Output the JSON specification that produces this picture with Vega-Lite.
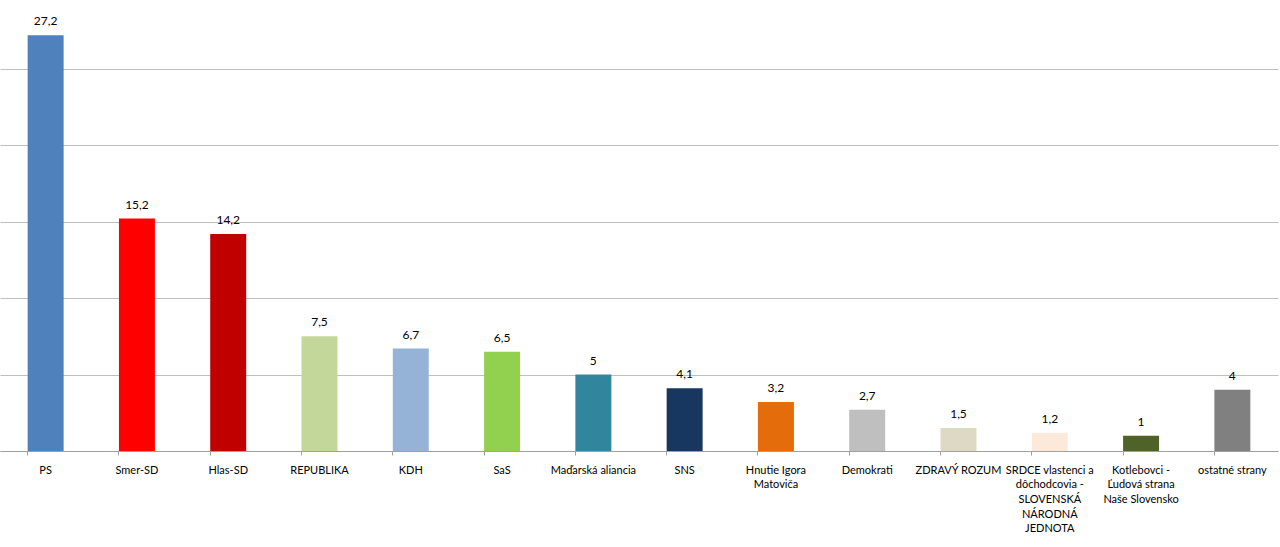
{
  "$schema": "https://vega.github.io/schema/vega-lite/v6.json",
  "width": 1278,
  "height": 451,
  "autosize": "none",
  "padding": {"left": 0, "top": 0, "right": 2, "bottom": 96},
  "background": "white",
  "config": {
    "view": {"stroke": null},
    "locale": {"number": {"decimal": ",", "thousands": " ", "grouping": [3], "currency": ["", " €"]}},
    "font": "Lato"
  },
  "data": {
    "values": [
      {"party": "PS", "value": 27.2, "color": "#4f81bd"},
      {"party": "Smer-SD", "value": 15.2, "color": "#ff0000"},
      {"party": "Hlas-SD", "value": 14.2, "color": "#c00000"},
      {"party": "REPUBLIKA", "value": 7.5, "color": "#c4d79b"},
      {"party": "KDH", "value": 6.7, "color": "#95b3d7"},
      {"party": "SaS", "value": 6.5, "color": "#92d050"},
      {"party": "Maďarská aliancia", "value": 5, "color": "#31859c"},
      {"party": "SNS", "value": 4.1, "color": "#17375e"},
      {"party": "Hnutie Igora|Matoviča", "value": 3.2, "color": "#e46c0a"},
      {"party": "Demokrati", "value": 2.7, "color": "#bfbfbf"},
      {"party": "ZDRAVÝ ROZUM", "value": 1.5, "color": "#ddd9c4"},
      {"party": "SRDCE vlastenci a|dôchodcovia -|SLOVENSKÁ|NÁRODNÁ|JEDNOTA", "value": 1.2, "color": "#fde9d9"},
      {"party": "Kotlebovci -|Ľudová strana|Naše Slovensko", "value": 1, "color": "#4f6228"},
      {"party": "ostatné strany", "value": 4, "color": "#808080"}
    ]
  },
  "encoding": {
    "x": {
      "field": "party",
      "type": "nominal",
      "sort": null,
      "scale": {"paddingInner": 0.606, "paddingOuter": 0.303},
      "axis": {
        "title": null,
        "labelAngle": 0,
        "labelExpr": "split(datum.label, '|')",
        "labelFont": "Lato",
        "labelFontSize": 11,
        "labelColor": "#000000",
        "labelLineHeight": 14.7,
        "labelPadding": 9,
        "labelBaseline": "top",
        "labelLimit": 200,
        "labelOverlap": false,
        "bandPosition": 0,
        "tickSize": 4,
        "tickColor": "#a0a0a0",
        "domainColor": "#a0a0a0",
        "grid": false
      }
    },
    "y": {
      "field": "value",
      "type": "quantitative",
      "scale": {"domain": [0, 29.5], "nice": false},
      "axis": {
        "title": null,
        "labels": false,
        "ticks": false,
        "domain": false,
        "values": [0, 5, 10, 15, 20, 25],
        "gridColor": "#bfbfbf",
        "gridWidth": 1.2
      }
    }
  },
  "layer": [
    {
      "mark": {"type": "bar"},
      "encoding": {
        "color": {"field": "color", "type": "nominal", "scale": null, "legend": null}
      }
    },
    {
      "mark": {"type": "text", "baseline": "bottom", "dy": -7, "fontSize": 12, "font": "Lato", "color": "#000000"},
      "encoding": {
        "text": {"field": "value", "type": "quantitative", "format": ".1~f"}
      }
    }
  ]
}
